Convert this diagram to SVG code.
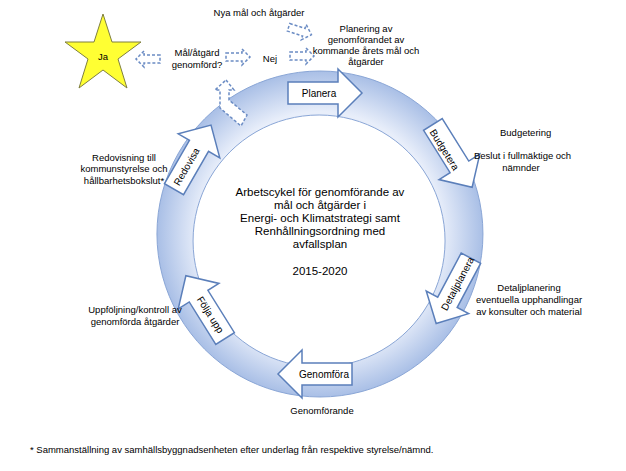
<svg xmlns="http://www.w3.org/2000/svg" width="626" height="471" viewBox="0 0 626 471">
<style>
text{font-family:"Liberation Sans",Arial,sans-serif;font-size:9.5px;fill:#000}
.c{text-anchor:middle}
.al{font-size:10px}
.ct{font-size:11.5px}
.blk{fill:#fff;stroke:#5b7fba;stroke-width:1.5}
.dsh{fill:#fff;stroke:#6b8cc4;stroke-width:1.5;stroke-dasharray:3,2}
</style>
<defs>
<radialGradient id="rg" cx="320" cy="234" r="163" gradientUnits="userSpaceOnUse">
<stop offset="0.75" stop-color="#e8eefa"/><stop offset="1" stop-color="#a9bfe6"/>
</radialGradient>
<path id="ba" d="M-36,-11 H14 V-24 L38,0 L14,24 V11 H-36 Z"/>
<path id="da" d="M-12,-4 H4 V-8 L12,0 L4,8 V4 H-12 Z"/>
</defs>
<rect width="626" height="471" fill="#fff"/>
<g id="ring">
<path d="M320,71 A163,163 0 1,1 319.9,71 Z M319,115 A126,126 0 1,0 319.1,115 Z" fill="url(#rg)" fill-rule="evenodd" stroke="#8aa6d6" stroke-width="1"/>
</g>
<g id="connectors">
<use href="#da" class="dsh" transform="translate(148,59) scale(-1,1)"/>
<use href="#da" class="dsh" transform="translate(238,57)"/>
<use href="#da" class="dsh" transform="translate(302,56)"/>
<use href="#da" class="dsh" transform="translate(300,31) rotate(18)"/>
<path class="dsh" d="M226,80 L234,90 L229,90 L229,100 L247,115 L241,126 L220,108 L220,90 L215,90 Z"/>
</g>
<g id="ja"><polygon points="103,14 112,42 141,42 118,59 127,88 103,70 79,88 88,59 65,42 94,42" fill="#ffff33" stroke="#7f7f3f" stroke-width="1"/><text x="103" y="60" class="c">Ja</text></g>
<g id="malatgard"><text x="197" y="56" class="c">Mål/åtgärd</text><text x="197" y="68" class="c">genomförd?</text></g>
<g id="nej"><text x="270" y="62" class="c">Nej</text></g>
<g id="nya"><text x="259" y="16" class="c">Nya mål och åtgärder</text></g>
<g id="planering"><text x="366" y="32" class="c">Planering  av</text><text x="366" y="43" class="c">genomförandet av</text><text x="366" y="54" class="c">kommande årets mål och</text><text x="366" y="65" class="c">åtgärder</text></g>
<g id="planera"><use href="#ba" class="blk" transform="translate(324,93)"/><text x="319" y="97" class="c al">Planera</text></g>
<g id="budgetera"><use href="#ba" class="blk" transform="translate(452,155) rotate(58)"/><text x="0" y="3" class="c al" transform="translate(444,150) rotate(58)">Budgetera</text></g>
<g id="detalj"><use href="#ba" class="blk" transform="translate(454,290) rotate(118)"/><text x="0" y="3" class="c al" transform="translate(458,284) rotate(-62)">Detaljplanera</text></g>
<g id="genomfora"><use href="#ba" class="blk" transform="translate(316,374) rotate(180)"/><text x="324" y="378" class="c al">Genomföra</text></g>
<g id="folja"><use href="#ba" class="blk" transform="translate(206,308) rotate(238)"/><text x="0" y="3" class="c al" transform="translate(210,315) rotate(58)">Följa upp</text></g>
<g id="redovisa"><use href="#ba" class="blk" transform="translate(192,158) rotate(-60)"/><text x="0" y="3" class="c al" transform="translate(187,167) rotate(-60)">Redovisa</text></g>
<g id="center"><text x="320" y="196" class="c ct">Arbetscykel för genomförande  av</text><text x="320" y="209" class="c ct">mål  och åtgärder i</text><text x="320" y="222" class="c ct">Energi-  och Klimatstrategi  samt</text><text x="320" y="235" class="c ct">Renhållningsordning  med</text><text x="320" y="248" class="c ct">avfallsplan</text><text x="320" y="275" class="c ct">2015-2020</text></g>
<g id="budgtext"><text x="500" y="136">Budgetering</text><text x="474" y="159">Beslut i fullmäktige och</text><text x="521" y="171" class="c">nämnder</text></g>
<g id="detaljtext"><text x="529" y="291" class="c">Detaljplanering</text><text x="529" y="303" class="c">eventuella upphandlingar</text><text x="529" y="315" class="c">av konsulter och material</text></g>
<g id="genomftext"><text x="322" y="414" class="c">Genomförande</text></g>
<g id="foljtext"><text x="135" y="313" class="c">Uppföljning/kontroll av</text><text x="135" y="325" class="c">genomförda åtgärder</text></g>
<g id="redtext"><text x="124" y="161" class="c">Redovisning till</text><text x="124" y="172" class="c">kommunstyrelse och</text><text x="124" y="184" class="c">hållbarhetsbokslut*</text></g>
<g id="foot"><text x="30" y="453" font-size="5.5px">* Sammanställning   av samhällsbyggnadsenheten   efter underlag  från  respektive   styrelse/nämnd.</text></g>
</svg>
